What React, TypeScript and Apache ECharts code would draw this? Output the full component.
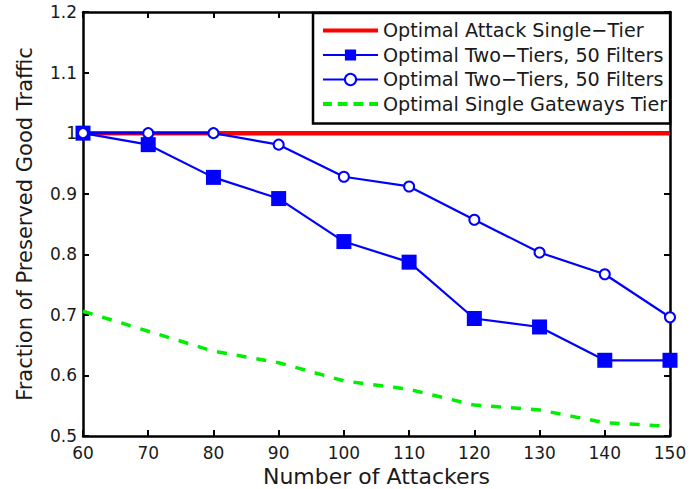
import React, { useEffect, useRef } from "react";
import * as echarts from "echarts";

const attackers = [60, 70, 80, 90, 100, 110, 120, 130, 140, 150];
const singleTier = [1, 1, 1, 1, 1, 1, 1, 1, 1, 1];
const twoTiersSquares = [1.0, 0.981, 0.927, 0.892, 0.821, 0.787, 0.694, 0.68, 0.625, 0.625];
const twoTiersCircles = [1.0, 1.0, 1.0, 0.981, 0.928, 0.912, 0.857, 0.803, 0.767, 0.696];
const gatewaysTier = [0.706, 0.673, 0.64, 0.621, 0.591, 0.577, 0.551, 0.543, 0.522, 0.516];

const seriesNames = [
  "Optimal Attack Single\u2212Tier",
  "Optimal Two\u2212Tiers, 50 Filters",
  "Optimal Two\u2212Tiers, 50 Filters ",
  "Optimal Single Gateways Tier",
];

const pair = (ys: number[]) => attackers.map((x, i) => [x, ys[i]]);

const FONT = "DejaVu Sans, Verdana, sans-serif";
const INK = "#1a1a1a";

export default function App() {
  const ref = useRef<HTMLDivElement>(null);
  useEffect(() => {
    if (!ref.current) return;
    const chart = echarts.init(ref.current, null, { renderer: "svg" });
    const axisLine = { show: true, lineStyle: { color: "#000", width: 2.5 } };
    const tick = { show: true, inside: true, length: 6, lineStyle: { color: "#000", width: 2 } };
    chart.setOption({
      animation: false,
      backgroundColor: "#fff",
      grid: { left: 83, right: 20, top: 12, bottom: 53, outerBoundsMode: "none", containLabel: false },
      legend: {
        orient: "vertical",
        left: 313,
        top: 13,
        padding: [8, 3, 10, 9],
        itemGap: 5.5,
        itemWidth: 55,
        itemHeight: 14,
        backgroundColor: "#fff",
        borderColor: "#000",
        borderWidth: 2.5,
        borderRadius: 0,
        formatter: (n: string) => n.trim(),
        textStyle: { fontSize: 19.2, lineHeight: 19, color: INK, fontFamily: FONT },
        data: [
          { name: seriesNames[0], icon: "path://M0,0H56V4H0Z" },
          { name: seriesNames[1] },
          { name: seriesNames[2] },
          {
            name: seriesNames[3],
            icon: "path://M0,0H9V4H0Z M15,0H25V4H15Z M31,0H41V4H31Z M47,0H56V4H47Z",
          },
        ],
      },
      xAxis: [
        {
          type: "value",
          min: 60,
          max: 150,
          interval: 10,
          name: "Number of Attackers",
          nameLocation: "middle",
          nameGap: 22,
          nameTextStyle: { fontSize: 22, color: INK, fontFamily: FONT },
          axisLine,
          axisTick: tick,
          splitLine: { show: false },
          axisLabel: { fontSize: 17, lineHeight: 15, color: INK, fontFamily: FONT, margin: 9 },
        },
        {
          type: "value",
          position: "top",
          min: 60,
          max: 150,
          interval: 10,
          axisLine,
          axisTick: tick,
          splitLine: { show: false },
          axisLabel: { show: false },
        },
      ],
      yAxis: [
        {
          type: "value",
          min: 0.5,
          max: 1.2,
          interval: 0.1,
          name: "Fraction of Preserved Good Traffic",
          nameLocation: "middle",
          nameGap: 48,
          nameTextStyle: { fontSize: 21, color: INK, fontFamily: FONT },
          axisLine,
          axisTick: tick,
          splitLine: { show: false },
          axisLabel: { fontSize: 17, lineHeight: 15, color: INK, fontFamily: FONT, margin: 6 },
        },
        {
          type: "value",
          position: "right",
          min: 0.5,
          max: 1.2,
          interval: 0.1,
          axisLine,
          axisTick: tick,
          splitLine: { show: false },
          axisLabel: { show: false },
        },
      ],
      series: [
        {
          name: seriesNames[0],
          type: "line",
          data: pair(singleTier),
          showSymbol: false,
          symbol: "none",
          lineStyle: { color: "#ff0000", width: 4.5 },
          itemStyle: { color: "#ff0000" },
          z: 2,
        },
        {
          name: seriesNames[1],
          type: "line",
          data: pair(twoTiersSquares),
          symbol: "rect",
          symbolSize: 15,
          lineStyle: { color: "#0000ff", width: 2.2 },
          itemStyle: { color: "#0000ff" },
          z: 3,
        },
        {
          name: seriesNames[2],
          type: "line",
          data: pair(twoTiersCircles),
          symbol: "emptyCircle",
          symbolSize: 10,
          lineStyle: { color: "#0000ff", width: 2.2 },
          itemStyle: { color: "#0000ff", borderColor: "#0000ff", borderWidth: 2 },
          z: 3,
        },
        {
          name: seriesNames[3],
          type: "line",
          data: pair(gatewaysTier),
          symbol: "none",
          lineStyle: { color: "#00ee00", width: 3.5, type: [10, 10] },
          itemStyle: { color: "#00ee00" },
          z: 2,
        },
      ],
    });
    return () => chart.dispose();
  }, []);
  return <div ref={ref} style={{ width: 690, height: 489, position: "absolute", left: 0, top: 0 }} />;
}
